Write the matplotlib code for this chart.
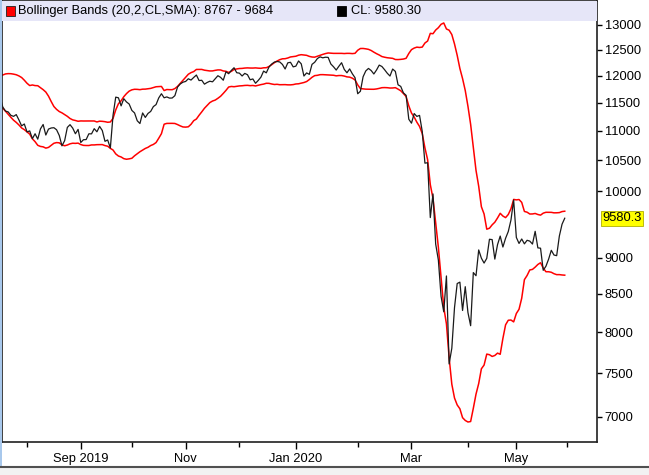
import numpy as np
import pandas as pd
import matplotlib
matplotlib.use("Agg")
import matplotlib.pyplot as plt
from matplotlib.patches import Rectangle

plt.rcParams['font.family'] = ['Liberation Sans', 'DejaVu Sans']

# NSE trading calendar, 2019-06-19 .. 2020-05-29
holidays = ["2019-08-12", "2019-08-15", "2019-09-02", "2019-09-10", "2019-10-02",
            "2019-10-08", "2019-10-21", "2019-10-28", "2019-11-12", "2019-12-25",
            "2020-02-21", "2020-03-10", "2020-04-02", "2020-04-06", "2020-04-10",
            "2020-04-14", "2020-05-01", "2020-05-25"]
special_sessions = ["2019-10-27", "2020-02-01"]

# daily closes (first 20 only feed the band warm-up)
closes = [
    # Jun 19 - Jul 31 2019
    11691, 11831, 11724, 11700, 11797, 11847, 11842, 11789,
    11865, 11910, 11916, 11946, 11811, 11558, 11555, 11498, 11582, 11552,
    11588, 11663, 11687, 11597, 11419, 11347, 11332, 11271, 11253, 11284,
    11189, 11085, 11118,
    # Aug
    10980, 10997, 10863, 10948, 10855, 11032, 11109, 10926, 11029, 11048,
    11053, 11017, 10918, 10741, 10829, 11058, 11106, 11046, 10948, 11023,
    # Sep
    10798, 10845, 10848, 10947, 10946, 11036, 10982, 11076, 11004, 10818,
    10841, 10705, 11274, 11600, 11588, 11441, 11571, 11512, 11474,
    # Oct
    11359, 11314, 11175, 11126, 11313, 11234, 11305, 11341, 11428, 11464,
    11586, 11662, 11588, 11604, 11582, 11584, 11627, 11787, 11844, 11877,
    # Nov
    11891, 11941, 11917, 11966, 12012, 11908, 11913, 11840, 11872, 11895,
    11884, 11940, 11999, 11968, 11914, 12074, 12037, 12100, 12151, 12056,
    # Dec
    12048, 11994, 12043, 12018, 11922, 11938, 11857, 11910, 11972, 12087,
    12054, 12165, 12222, 12260, 12272, 12263, 12215, 12127, 12246, 12256,
    12168,
    # Jan 2020
    12182, 12282, 12226, 11993, 12052, 12025, 12216, 12257, 12329, 12362,
    12343, 12355, 12352, 12224, 12170, 12107, 12180, 12248, 12119, 12055,
    12129, 12036, 11962,
    # Feb
    11662, 11708, 11979, 12090, 12138, 12098, 12032, 12108, 12202, 12175,
    12113, 12046, 11993, 12126, 12081, 11829, 11798, 11678, 11633, 11202,
    # Mar
    11132, 11303, 11252, 11270, 10989, 10451, 10458, 9590, 9955, 9197,
    8967, 8469, 8264, 8745, 7610, 7801, 8318, 8641, 8660, 8281, 8598,
    # Apr
    8254, 8084, 8792, 8748, 9112, 8994, 8925, 8992, 9267, 9262,
    8981, 9188, 9314, 9154, 9282, 9381, 9553, 9860,
    # May
    9294, 9206, 9271, 9200, 9252, 9240, 9197, 9384, 9142, 9137,
    8824, 8880, 8980, 9107, 9039, 9030, 9315, 9490, 9580.30,
]

month_labels = {"2019-09": "Sep 2019", "2019-11": "Nov", "2020-01": "Jan 2020",
                "2020-03": "Mar", "2020-05": "May"}
y_ticks = [7000, 7500, 8000, 8500, 9000, 10000, 10500, 11000, 11500, 12000, 12500, 13000]

# build the date index
days = pd.bdate_range("2019-06-19", "2020-05-29")
days = days.drop(pd.to_datetime(holidays))
days = days.append(pd.to_datetime(special_sessions)).sort_values()
# one index slot past the end for June's tick
days = days.append(pd.DatetimeIndex(["2020-06-01"]))

cl = pd.Series(closes)
mid = cl.rolling(20).mean()
sd = cl.rolling(20).std(ddof=0)
upper = mid + 2 * sd
lower = mid - 2 * sd
x = np.arange(len(cl))

fig = plt.figure(figsize=(6.49, 4.75), dpi=100)
ax = fig.add_axes([2 / 649, 33 / 475, 595 / 649, 441 / 475])

ax.plot(x, upper, color="#ff0000", lw=1.1)
ax.plot(x, lower, color="#ff0000", lw=1.1)
ax.plot(x, cl, color="#1a1a1a", lw=0.9)

# month ticks: first trading day of each month
month_first = pd.Series(range(len(days)), index=days).groupby(days.to_period("M")).first()
major_pos, major_lab, minor_pos = [], [], []
for per, pos in month_first.items():
    key = str(per)
    if key in month_labels:
        major_pos.append(pos)
        major_lab.append(month_labels[key])
    else:
        minor_pos.append(pos)
ax.set_xticks(major_pos)
ax.set_xticklabels(major_lab)
ax.set_xticks(minor_pos, minor=True)
ax.tick_params(axis="x", which="major", length=5, width=1, pad=3, labelsize=9.3)
ax.tick_params(axis="x", which="minor", length=3.5, width=1)

aug1 = list(days).index(pd.Timestamp("2019-08-01"))
ax.set_xlim(aug1 - 9.3, aug1 + 212)

ax.set_yscale("log")
ax.yaxis.tick_right()
ax.set_yticks(y_ticks)
ax.set_yticklabels([str(v) for v in y_ticks])
ax.yaxis.set_minor_locator(matplotlib.ticker.NullLocator())
ax.tick_params(axis="y", which="major", length=3.5, width=1, pad=2, labelsize=9.3)
ax.set_ylim(13000 * np.exp(-417 / 633), 13000 * np.exp(24 / 633))

for s in ax.spines.values():
    s.set_linewidth(1.2)
    s.set_color("#202020")

# header strip with legend
ax.add_patch(Rectangle((0, 1 - 20 / 441), 1, 20 / 441, transform=ax.transAxes,
                       facecolor="#e6e6f8", edgecolor="none", zorder=3))
hy = 1 - 10 / 441
ax.add_patch(Rectangle((4 / 595, hy - 5 / 441), 9 / 595, 10 / 441, transform=ax.transAxes,
                       facecolor="#ff0000", edgecolor="#202020", lw=0.6, zorder=4))
ax.text(16 / 595, hy, "Bollinger Bands (20,2,CL,SMA): 8767 - 9684", transform=ax.transAxes,
        va="center", ha="left", fontsize=9.3, zorder=4)
ax.add_patch(Rectangle((335 / 595, hy - 5 / 441), 9 / 595, 10 / 441, transform=ax.transAxes,
                       facecolor="#000000", edgecolor="#000000", lw=0.6, zorder=4))
ax.text(349 / 595, hy, "CL: 9580.30", transform=ax.transAxes,
        va="center", ha="left", fontsize=9.3, zorder=4)

# last value label
ax.annotate("9580.3", xy=(1, closes[-1]), xycoords=("axes fraction", "data"),
            xytext=(4, 0), textcoords="offset points", va="center", ha="left",
            fontsize=9.3, annotation_clip=False,
            bbox=dict(boxstyle="square,pad=0.12", fc="#ffff00", ec="#b0b000", lw=0.6))

# window chrome: left edge and bottom toolbar strip
fig.patches.append(Rectangle((0, 0), 2 / 649, 1, transform=fig.transFigure,
                             facecolor="#a8c8ec", edgecolor="none"))
fig.patches.append(Rectangle((0, 0), 1, 8 / 475, transform=fig.transFigure,
                             facecolor="#f2f2f2", edgecolor="none"))
fig.lines.append(plt.Line2D([0, 1], [8 / 475, 8 / 475], transform=fig.transFigure,
                            color="#505050", lw=1.5))

fig.savefig("out.png", dpi=100)
